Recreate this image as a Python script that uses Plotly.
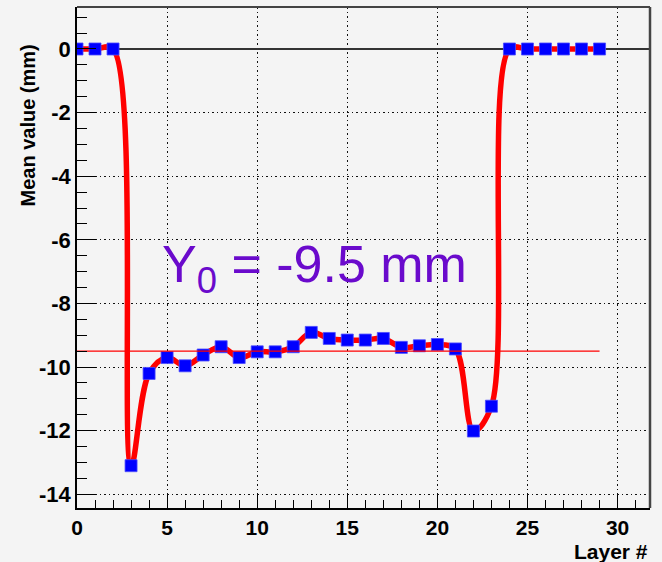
import plotly.graph_objects as go

# ---- data ----
layers = list(range(30))
mean_values = [0.0, 0.0, 0.0, -13.1, -10.2, -9.70, -9.96, -9.62, -9.36, -9.70,
               -9.52, -9.52, -9.36, -8.91, -9.10, -9.15, -9.15, -9.10, -9.38, -9.33,
               -9.29, -9.43, -12.01, -11.23, 0.0, 0.0, 0.0, 0.0, 0.0, 0.0]
y0_value = -9.5
y0_line_x = [0, 29]
y_tickvals = [0, -2, -4, -6, -8, -10, -12, -14]
y_ticktext = ["0", "-2", "-4", "-6", "-8", "-10", "-12", "-14"]
x_tickvals = [0, 5, 10, 15, 20, 25, 30]
x_ticktext = ["0", "5", "10", "15", "20", "25", "30"]

BG = "#f4f4f4"
FONT = "Liberation Sans"
GRID_DASH = "1.5px,3px"

fig = go.Figure()

# smooth red curve through the points
fig.add_trace(go.Scatter(
    x=layers, y=mean_values, mode="lines",
    line=dict(color="#ff0000", width=5.5, shape="spline", smoothing=1.0),
    hoverinfo="skip", showlegend=False))

# blue square markers
fig.add_trace(go.Scatter(
    x=layers, y=mean_values, mode="markers",
    marker=dict(symbol="square", size=12, color="#0000ff",
                line=dict(width=0.8, color="#4a4aff")),
    showlegend=False))

# Y0 reference line
fig.add_trace(go.Scatter(
    x=y0_line_x, y=[y0_value] * len(y0_line_x), mode="lines",
    line=dict(color="#ff0000", width=1.3),
    hoverinfo="skip", showlegend=False))

fig.update_layout(
    width=662, height=562,
    margin=dict(l=77, r=12, t=7, b=54),
    paper_bgcolor=BG, plot_bgcolor=BG,
    font=dict(family=FONT, color="black"),
    xaxis=dict(
        range=[0, 31.8], showline=True, linecolor="black", linewidth=1.5,
        ticks="inside", ticklen=13, tickwidth=1.3, tickcolor="black",
        tickvals=x_tickvals, ticktext=x_ticktext,
        tickfont=dict(family=FONT, size=21, weight="bold"),
        minor=dict(ticks="inside", ticklen=8, tickwidth=1.3, tickcolor="black",
                   dtick=1, tick0=0, showgrid=False),
        showgrid=True, gridcolor="#111", gridwidth=1.2, griddash=GRID_DASH,
        zeroline=False, automargin=False),
    yaxis=dict(
        range=[-14.43, 1.32], showline=True, linecolor="black", linewidth=1.5,
        ticks="inside", ticklen=19, tickwidth=1.3, tickcolor="black",
        tickvals=y_tickvals, ticktext=y_ticktext,
        tickfont=dict(family=FONT, size=22, weight="bold"),
        minor=dict(ticks="inside", ticklen=10, tickwidth=1.3, tickcolor="black",
                   dtick=0.5, tick0=0, showgrid=False),
        showgrid=True, gridcolor="#111", gridwidth=1.2, griddash=GRID_DASH,
        zeroline=True, zerolinecolor="#333", zerolinewidth=1.5, automargin=False),
    shapes=[
        dict(type="line", xref="paper", yref="paper", x0=0, x1=1, y0=1, y1=1,
             line=dict(color="#444", width=2)),
        dict(type="line", xref="paper", yref="paper", x0=1, x1=1, y0=0, y1=1,
             line=dict(color="#444", width=2.5)),
    ],
    annotations=[
        dict(text="Mean value (mm)", xref="paper", yref="paper",
             x=-0.085, y=0.764, xanchor="center", yanchor="middle",
             textangle=-90, showarrow=False,
             font=dict(family=FONT, size=20, weight="bold", color="black")),
        dict(text="Layer #", xref="paper", yref="paper",
             x=1.0, y=-0.06, xanchor="right", yanchor="top",
             showarrow=False,
             font=dict(family=FONT, size=21, weight="bold", color="black")),
        dict(text="Y<sub>0</sub> = -9.5 mm", xref="x", yref="y",
             x=13.2, y=-6.9, xanchor="center", yanchor="middle",
             showarrow=False,
             font=dict(family=FONT, size=52, color="#6a0acc")),
    ],
)

fig.write_html("out.html", config={"displayModeBar": False},
               post_script="document.body.style.margin='0';document.body.style.background='%s';" % BG)
